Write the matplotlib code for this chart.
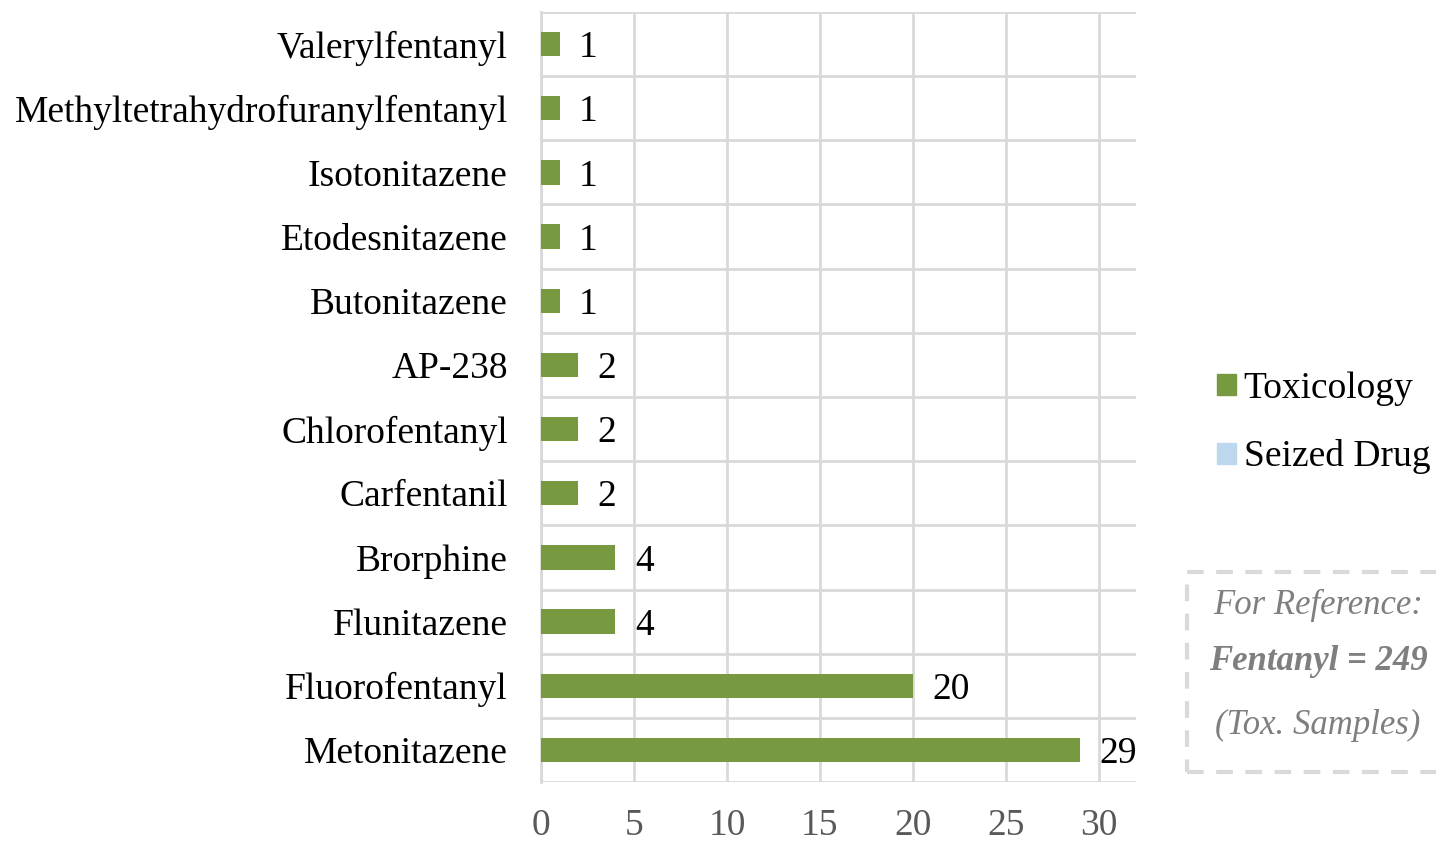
import matplotlib.pyplot as plt
from matplotlib.patches import Patch, Rectangle

drugs = ['Valerylfentanyl', 'Methyltetrahydrofuranylfentanyl', 'Isotonitazene',
         'Etodesnitazene', 'Butonitazene', 'AP-238', 'Chlorofentanyl', 'Carfentanil',
         'Brorphine', 'Flunitazene', 'Fluorofentanyl', 'Metonitazene']
toxicology = [1, 1, 1, 1, 1, 2, 2, 2, 4, 4, 20, 29]
seized = [0, 0, 0, 0, 0, 0, 0, 0, 0, 0, 0, 0]

green = '#77993F'
blue = '#BDD7EE'
grid_c = '#D9D9D9'

plt.rcParams['font.family'] = ['Liberation Serif', 'DejaVu Serif']

fig = plt.figure(figsize=(14.36, 8.44), dpi=100)
ax = fig.add_axes([541 / 1436, 1 - 782 / 844, 595 / 1436, 770 / 844])

pos = list(range(len(drugs)))[::-1]
ax.barh(pos, toxicology, height=0.38, color=green, zorder=3)
ax.barh(pos, seized, height=0.38, color=blue, zorder=3)

for p, v in zip(pos, toxicology):
    ax.annotate(str(v), (v, p), xytext=(14, 0), textcoords='offset points',
                ha='left', va='center_baseline', fontsize=27, color='black')

ax.set_xlim(0, 32)
ax.set_ylim(-0.5, len(drugs) - 0.5)
ax.set_xticks([0, 5, 10, 15, 20, 25, 30])
ax.set_yticks(pos)
ax.set_yticklabels(drugs, va='center_baseline')
ax.set_yticks([p + 0.5 for p in range(-1, len(drugs))], minor=True)
ax.grid(axis='x', which='major', color=grid_c, linewidth=2, zorder=0)
ax.grid(axis='y', which='minor', color=grid_c, linewidth=2, zorder=0)
ax.tick_params(axis='y', which='both', length=0, labelsize=27, pad=24, labelcolor='black')
ax.tick_params(axis='x', length=0, labelsize=27, pad=19, labelcolor='#595959')
for s in ['top', 'right', 'bottom']:
    ax.spines[s].set_visible(False)
ax.spines['left'].set_color(grid_c)
ax.spines['left'].set_linewidth(2)

handles = [Patch(color=green, label='Toxicology'), Patch(color=blue, label='Seized Drug')]
fig.legend(handles=handles, loc='upper left', bbox_to_anchor=(1191 / 1436, 1 - 345 / 844),
           frameon=False, fontsize=27, handlelength=0.5, handleheight=0.5,
           handletextpad=0.2, labelspacing=0.9, borderpad=0.2)

box = Rectangle((1187 / 1436, 1 - 772 / 844), 300 / 1436, 200 / 844,
                transform=fig.transFigure, fill=False, edgecolor=grid_c,
                linestyle=(0, (4, 3)), linewidth=3)
fig.add_artist(box)
fig.text(1318 / 1436, 1 - 605 / 844, 'For Reference:', ha='center', va='center',
         fontsize=25, style='italic', color='#7F7F7F')
fig.text(1318 / 1436, 1 - 662 / 844, 'Fentanyl = 249', ha='center', va='center',
         fontsize=25, style='italic', weight='bold', color='#7F7F7F')
fig.text(1318 / 1436, 1 - 725 / 844, '(Tox. Samples)', ha='center', va='center',
         fontsize=25, style='italic', color='#7F7F7F')

fig.savefig('out.png', dpi=100)
